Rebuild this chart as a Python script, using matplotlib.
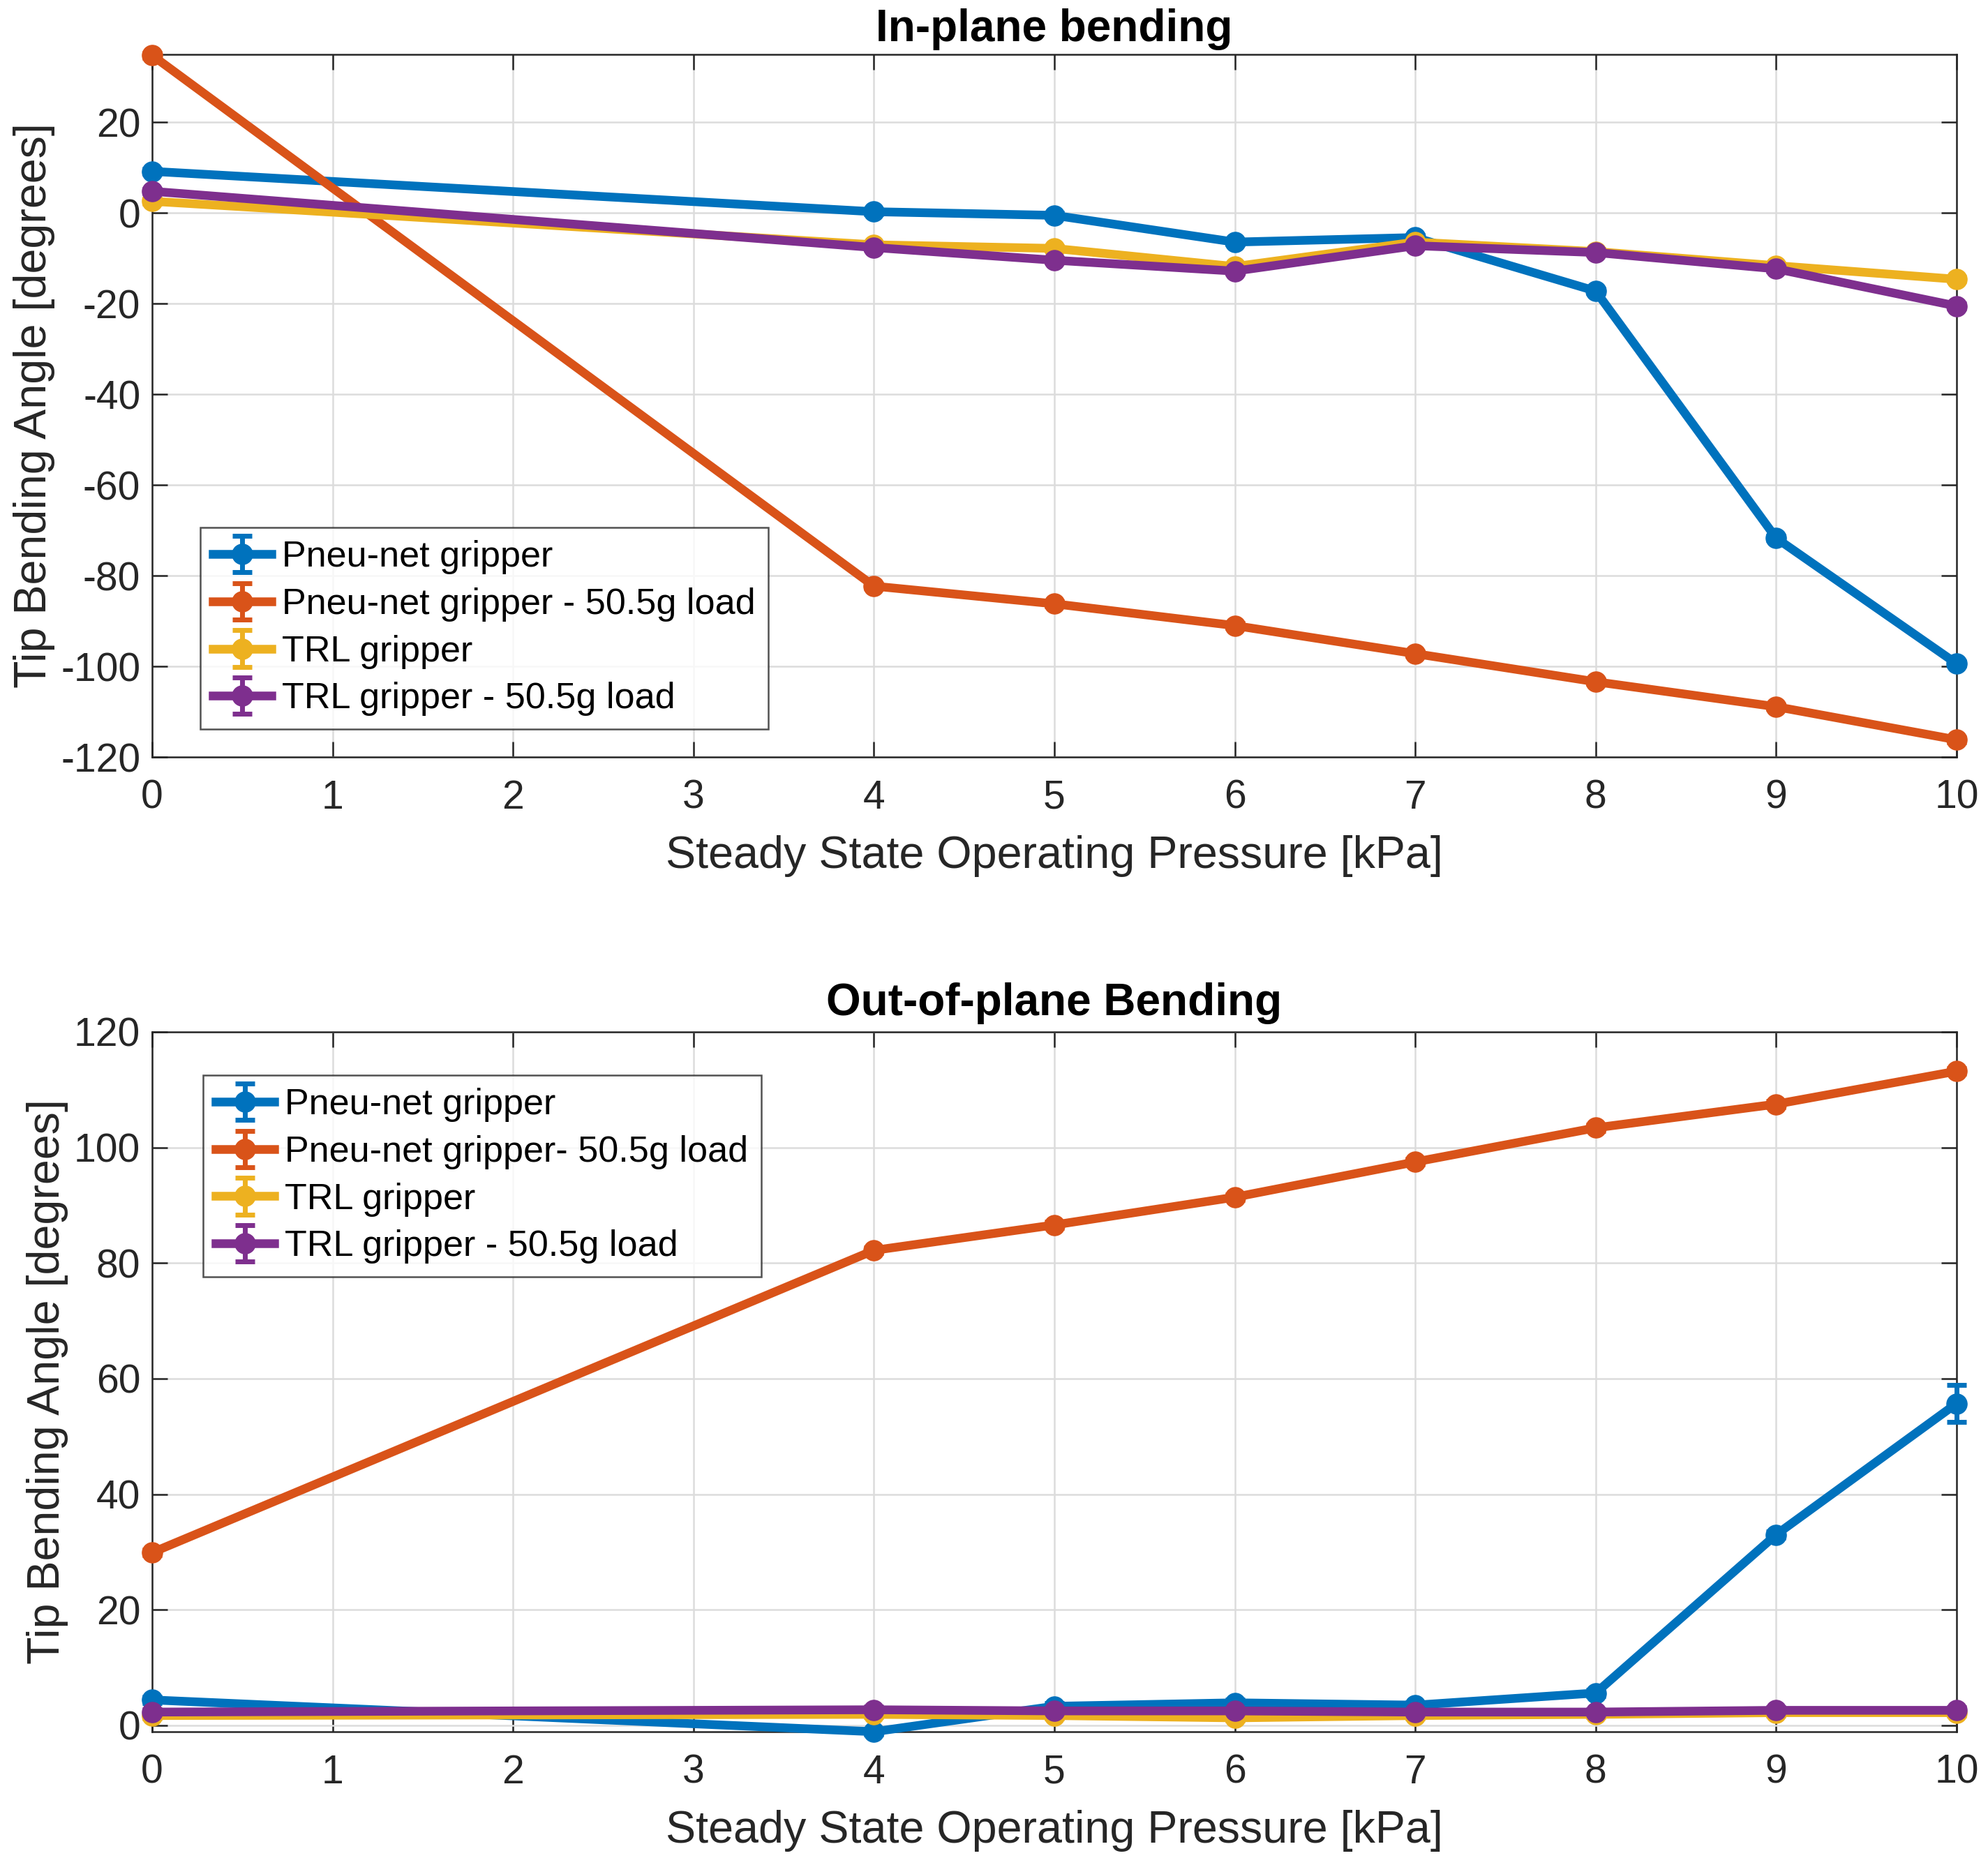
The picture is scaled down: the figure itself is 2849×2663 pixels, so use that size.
import matplotlib
matplotlib.use("Agg")
import matplotlib.pyplot as plt
import numpy as np

plt.rcParams['font.family'] = ['Liberation Sans', 'DejaVu Sans']
plt.rcParams['axes.unicode_minus'] = False

pressure = [0, 4, 5, 6, 7, 8, 9, 10]

# In-plane bending
in_pneu = [9.2, 0.3, -0.5, -6.4, -5.4, -17.2, -71.7, -99.4]
in_pneu_load = [34.8, -82.3, -86.2, -91.0, -97.2, -103.4, -108.9, -116.2]
in_trl = [2.6, -7.0, -7.8, -11.8, -6.4, -8.5, -11.6, -14.6]
in_trl_load = [4.8, -7.6, -10.4, -12.8, -7.2, -8.7, -12.3, -20.5]
in_err_pneu = [0.5, 0.5, 0.5, 0.5, 0.5, 0.5, 0.5, 0.5]
in_err_pneu_load = [0.5, 0.5, 0.5, 0.5, 0.5, 0.5, 0.5, 0.5]
in_err_trl = [0.5, 0.5, 0.5, 0.5, 0.5, 0.5, 0.5, 0.5]
in_err_trl_load = [0.5, 0.5, 0.5, 0.5, 0.5, 0.5, 0.5, 0.5]

# Out-of-plane bending
out_pneu = [4.4, -1.1, 3.3, 3.9, 3.5, 5.6, 33.0, 55.7]
out_pneu_load = [29.9, 82.2, 86.6, 91.4, 97.5, 103.4, 107.5, 113.2]
out_trl = [1.7, 1.9, 1.7, 1.3, 1.7, 1.9, 2.2, 2.2]
out_trl_load = [2.3, 2.7, 2.5, 2.5, 2.3, 2.3, 2.6, 2.6]
out_err_pneu = [0.5, 0.5, 0.5, 0.5, 0.5, 0.5, 0.5, 3.2]
out_err_pneu_load = [0.5, 0.5, 0.5, 0.5, 0.5, 0.5, 0.5, 0.5]
out_err_trl = [0.5, 0.5, 0.5, 0.5, 0.5, 0.5, 0.5, 0.5]
out_err_trl_load = [0.5, 0.5, 0.5, 0.5, 0.5, 0.5, 0.5, 0.5]

labels_top = ["Pneu-net gripper", "Pneu-net gripper - 50.5g load",
              "TRL gripper", "TRL gripper - 50.5g load"]
labels_bot = ["Pneu-net gripper", "Pneu-net gripper- 50.5g load",
              "TRL gripper", "TRL gripper - 50.5g load"]
colors = ["#0072BD", "#D95319", "#EDB120", "#7E2F8E"]

x_ticks = list(range(0, 11))
y_ticks_top = [-120, -100, -80, -60, -40, -20, 0, 20]
y_ticks_bot = [0, 20, 40, 60, 80, 100, 120]

W, H = 2849, 2663
dpi = 100
fig = plt.figure(figsize=(W / dpi, H / dpi), dpi=dpi)

ax1 = fig.add_axes([218 / W, 1 - 1085 / H, (2804 - 218) / W, (1085 - 78) / H])
ax2 = fig.add_axes([218 / W, 1 - 2482 / H, (2804 - 218) / W, (2482 - 1479) / H])

FS = 41
LFS = 46.5
LW = 9
MS = 21


def draw(ax, ys, errs, labels, title, ylim, yticks, legend_bbox, tpad):
    for y, e, c, lab in zip(ys, errs, colors, labels):
        ax.errorbar(pressure, y, yerr=e, color=c, lw=LW, marker='o', ms=MS,
                    mfc=c, mec=c, capsize=10, capthick=5, elinewidth=5,
                    label=lab, clip_on=False, zorder=3)
    ax.set_xlim(0, 10)
    ax.set_ylim(*ylim)
    ax.set_xticks(x_ticks)
    ax.set_yticks(yticks)
    ax.grid(True, color='#dcdcdc', lw=1.8)
    ax.set_axisbelow(True)
    for s in ax.spines.values():
        s.set_color('#262626')
        s.set_linewidth(1.8)
    ax.tick_params(direction='in', length=16, width=1.8, labelsize=FS,
                   colors='#262626', top=True, right=True)
    ax.tick_params(axis='x', pad=23)
    ax.tick_params(axis='y', pad=12)
    ax.set_xlabel("Steady State Operating Pressure [kPa]", fontsize=LFS, color='#262626', labelpad=19)
    ax.set_ylabel("Tip Bending Angle [degrees]", fontsize=LFS, color='#262626', labelpad=6)
    ax.set_title(title, fontsize=46, fontweight='bold', pad=tpad)
    leg = ax.legend(loc='upper left', bbox_to_anchor=legend_bbox, fontsize=37.5,
                    frameon=True, fancybox=False, edgecolor='#262626',
                    handlelength=1.6, handletextpad=0.3, borderpad=0.35,
                    labelspacing=0.36, borderaxespad=0)
    leg.get_frame().set_linewidth(1.8)


draw(ax1, [in_pneu, in_pneu_load, in_trl, in_trl_load],
     [in_err_pneu, in_err_pneu_load, in_err_trl, in_err_trl_load],
     labels_top, "In-plane bending", (-120, 35), y_ticks_top,
     ((287 - 218) / (2804 - 218), (1085 - 756) / (1085 - 78)), 14)
draw(ax2, [out_pneu, out_pneu_load, out_trl, out_trl_load],
     [out_err_pneu, out_err_pneu_load, out_err_trl, out_err_trl_load],
     labels_bot, "Out-of-plane Bending", (-1.1, 120), y_ticks_bot,
     ((291 - 218) / (2804 - 218), (2482 - 1541) / (2482 - 1479)), 17)

fig.savefig("out.png", dpi=dpi)
